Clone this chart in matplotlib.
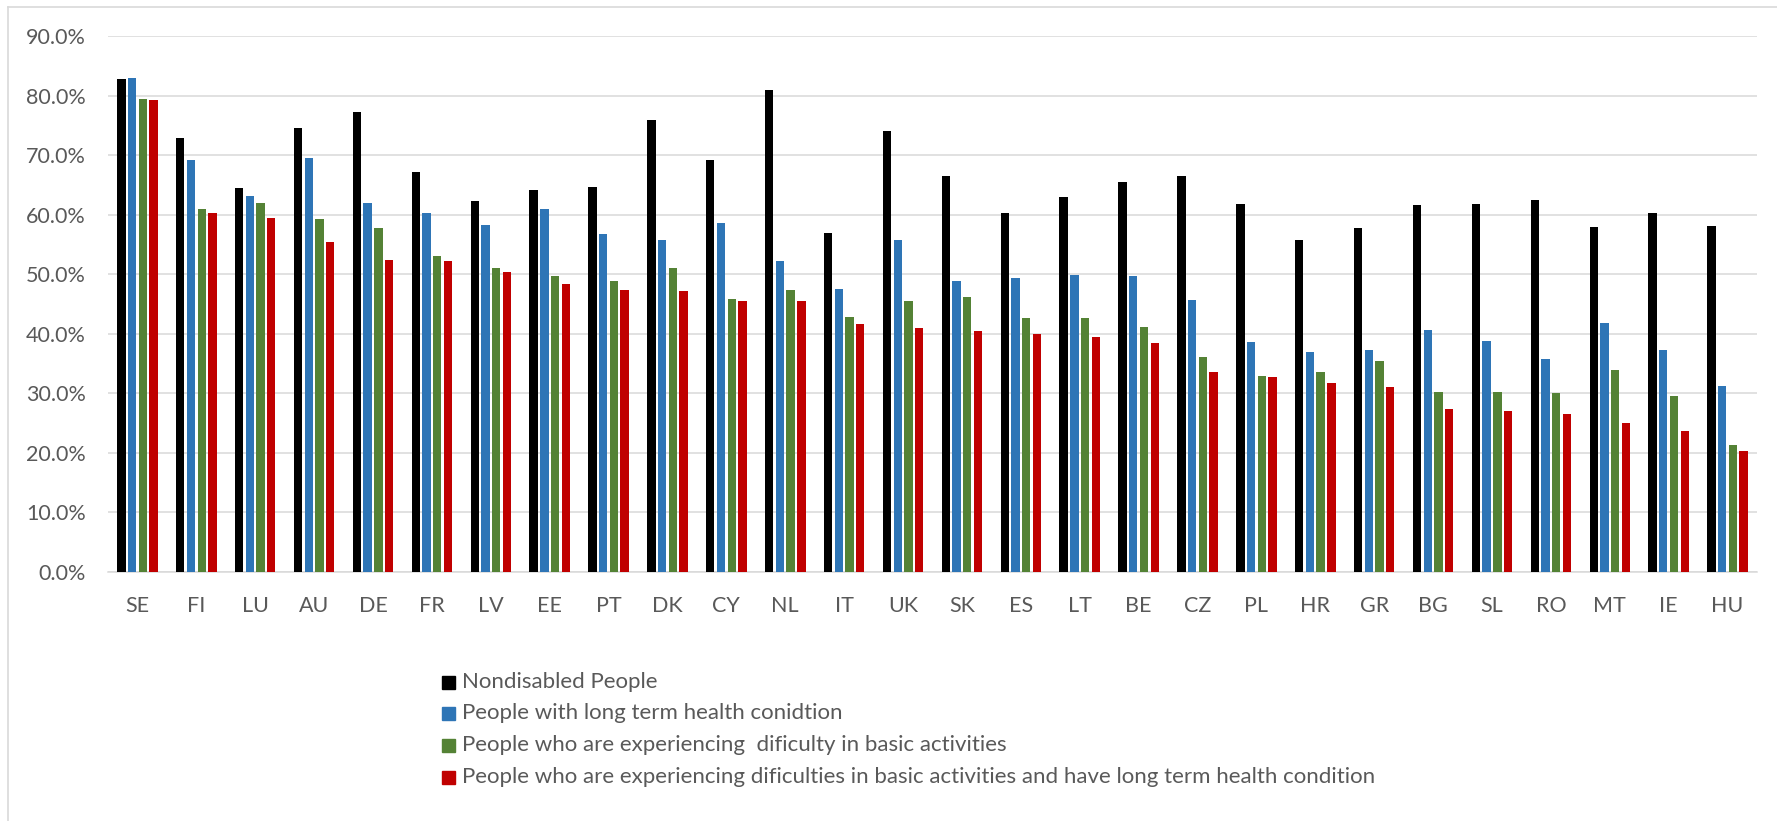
import numpy as np
import matplotlib
matplotlib.use('Agg')
from matplotlib import pyplot as plt
from matplotlib.patches import Rectangle
from matplotlib.lines import Line2D
from matplotlib.ticker import PercentFormatter

# employment rate by country and group (%)
countries = ['SE', 'FI', 'LU', 'AU', 'DE', 'FR', 'LV', 'EE', 'PT', 'DK', 'CY', 'NL', 'IT', 'UK',
             'SK', 'ES', 'LT', 'BE', 'CZ', 'PL', 'HR', 'GR', 'BG', 'SL', 'RO', 'MT', 'IE', 'HU']
nondisabled = [82.7, 72.9, 64.4, 74.5, 77.3, 67.1, 62.3, 64.2, 64.6, 75.9, 69.1, 81.0, 57.0, 74.1,
               66.5, 60.2, 62.9, 65.5, 66.5, 61.8, 55.7, 57.7, 61.7, 61.8, 62.4, 58.0, 60.2, 58.1]
long_term = [83.0, 69.2, 63.2, 69.5, 62.0, 60.3, 58.2, 60.9, 56.8, 55.8, 58.6, 52.2, 47.6, 55.7,
             48.9, 49.4, 49.8, 49.7, 45.7, 38.7, 36.9, 37.2, 40.6, 38.8, 35.8, 41.8, 37.3, 31.3]
dificulty = [79.4, 61.0, 61.9, 59.3, 57.7, 53.0, 51.1, 49.7, 48.8, 51.1, 45.9, 47.3, 42.9, 45.5,
             46.2, 42.7, 42.7, 41.2, 36.1, 32.9, 33.6, 35.5, 30.3, 30.3, 30.1, 33.9, 29.5, 21.3]
both = [79.3, 60.3, 59.5, 55.4, 52.4, 52.2, 50.4, 48.3, 47.3, 47.2, 45.5, 45.5, 41.7, 41.0,
        40.4, 39.9, 39.5, 38.4, 33.6, 32.7, 31.7, 31.0, 27.4, 27.1, 26.6, 25.0, 23.6, 20.3]

labels = ['Nondisabled People',
          'People with long term health conidtion',
          'People who are experiencing  dificulty in basic activities',
          'People who are experiencing dificulties in basic activities and have long term health condition']
colors = ['#000000', '#2E75B6', '#548235', '#C00000']
series = [nondisabled, long_term, dificulty, both]

plt.rcParams['font.family'] = ['Lato', 'DejaVu Sans']
W, H = 1777, 821
fig = plt.figure(figsize=(W / 100, H / 100), dpi=100)


def fx(px):
    return px / W


def fy(py):
    return 1 - py / H


ax = fig.add_axes([fx(108), fy(572), fx(1757) - fx(108), fy(36) - fy(572)])

x = np.arange(len(countries))
step = 0.182
for i, (vals, c) in enumerate(zip(series, colors)):
    ax.bar(x + (i - 1.5) * step, np.array(vals) / 100, width=step * 0.78, color=c, zorder=3)

ax.set_xlim(-0.5, len(countries) - 0.5)
ax.set_ylim(0, 0.9)
ax.set_yticks(np.arange(0, 0.91, 0.1))
ax.yaxis.set_major_formatter(PercentFormatter(1.0, decimals=1))
ax.set_xticks(x)
ax.set_xticklabels(countries)
ax.grid(axis='y', color='#D9D9D9', linewidth=1.1, zorder=0)
for s in ['top', 'right', 'left']:
    ax.spines[s].set_visible(False)
ax.spines['bottom'].set_color('#D9D9D9')
ax.spines['bottom'].set_linewidth(1.1)
ax.tick_params(axis='both', length=0, labelsize=15.5, colors='#595959')
ax.tick_params(axis='y', pad=16)
ax.tick_params(axis='x', pad=17)

# legend below the plot
rows = [682, 713, 745, 777]
for lab, c, ry in zip(labels, colors, rows):
    fig.add_artist(Rectangle((fx(442), fy(ry + 6.5)), fx(13), fy(ry - 6.5) - fy(ry + 6.5),
                             transform=fig.transFigure, color=c))
    fig.text(fx(462), fy(ry), lab, fontsize=16, color='#595959', va='center', ha='left')

# chart area border
fig.add_artist(Line2D([fx(8), fx(8)], [fy(7), 0], transform=fig.transFigure, color='#D9D9D9', lw=1.2))
fig.add_artist(Line2D([fx(8), 1], [fy(7), fy(7)], transform=fig.transFigure, color='#D9D9D9', lw=1.2))

fig.savefig('out.png', dpi=100)
